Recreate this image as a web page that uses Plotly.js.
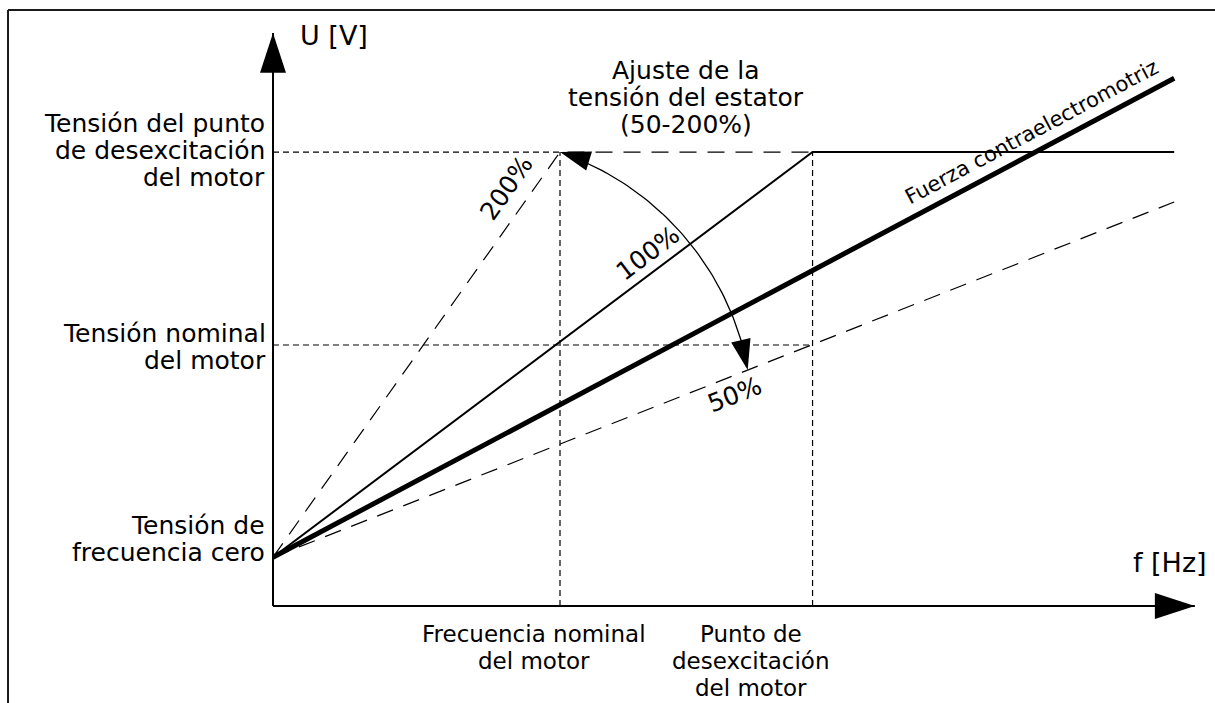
<!DOCTYPE html>
<html>
<head>
<meta charset="utf-8">
<script src="https://cdn.plot.ly/plotly-3.0.1.min.js"></script>
<style>
  body { margin: 0; background: #fff; }
  #chart { width: 1215px; height: 703px; }
</style>
</head>
<body>
<div id="chart"></div>
<script>
// values (f in Hz, U in V)
const fNominal = 50;
const fFieldWeak = 94;
const fEnd = 157;
const fAxisEnd = 160.6;

const uZero = 43;
const uNominal = 230;
const uFieldWeak = 400;
const uAxisEnd = 505;

// U/f curves
const f100 = [0, fFieldWeak, fEnd];
const u100 = [uZero, uFieldWeak, uFieldWeak];
const f200 = [0, fNominal, fFieldWeak];
const u200 = [uZero, uFieldWeak, uFieldWeak];
const f50 = [0, fFieldWeak, fEnd];
const u50 = [uZero, uNominal, 356];
const fEmf = [0, fEnd];
const uEmf = [uZero, 465];

// tips of the adjustment arc arrows
const arcTipF = [fNominal, 82.7];
const arcTipU = [uFieldWeak, 208];

// text
const labelFieldWeakU = ['Tensión del punto', 'de desexcitación', 'del motor'];
const labelNominalU = ['Tensión nominal', 'del motor'];
const labelZeroU = ['Tensión de', 'frecuencia cero'];
const labelAdjust = ['Ajuste de la', 'tensión del estator', '(50-200%)'];
const labelNominalF = ['Frecuencia nominal', 'del motor'];
const labelFieldWeakF = ['Punto de', 'desexcitación', 'del motor'];
const axisTitleU = 'U [V]';
const axisTitleF = 'f [Hz]';
const pctLabels = ['200%', '100%', '50%'];
const emfLabel = 'Fuerza contraelectromotriz';

const font = 'DejaVu Sans, Verdana, sans-serif';
const black = '#000000';

// arc of the stator voltage adjustment (drawn decoration)
const arcF = [], arcU = [];
for (let a = 66; a >= 16; a -= 1) {
    const r = a * Math.PI / 180;
    arcF.push(33.97 + 49.65 * Math.cos(r));
    arcU.push(162.1 + 251.1 * Math.sin(r));
}

// dotted guide lines
const guideF = [0, fNominal, null, 0, fFieldWeak, null, fNominal, fNominal, null, fFieldWeak, fFieldWeak];
const guideU = [uFieldWeak, uFieldWeak, null, uNominal, uNominal, null, 0, uFieldWeak, null, 0, uFieldWeak];

const traces = [
    { x: guideF, y: guideU, mode: 'lines', line: { color: black, width: 1.2, dash: '6px,4px' } },
    { x: f200, y: u200, mode: 'lines', line: { color: black, width: 1.2, dash: '17px,11px' } },
    { x: f50, y: u50, mode: 'lines', line: { color: black, width: 1.2, dash: '17px,11px' } },
    { x: f100, y: u100, mode: 'lines', line: { color: black, width: 2 } },
    { x: fEmf, y: uEmf, mode: 'lines', line: { color: black, width: 5 } },
    { x: [0, 0], y: [0, uAxisEnd], mode: 'lines', line: { color: black, width: 2 } },
    { x: [0, fAxisEnd], y: [0, 0], mode: 'lines', line: { color: black, width: 2 } },
    { x: [0, fAxisEnd], y: [uAxisEnd, 0], mode: 'markers',
      marker: { symbol: 'arrow', size: 42, angle: [0, 90], color: black, line: { width: 0 } } },
    { x: arcF, y: arcU, mode: 'lines', line: { color: black, width: 1.3 } },
    { x: arcTipF, y: arcTipU, mode: 'markers',
      marker: { symbol: 'arrow', size: 32, angle: [-73, 167], color: black, line: { width: 0 } } }
];

// one annotation per text line so the line spacing follows the picture
function stack(lines, x, y, xanchor, xshift, yshift, size) {
    return lines.map((t, i) => ({
        x: x, y: y, text: t, showarrow: false,
        xanchor: xanchor, yanchor: 'middle',
        xshift: xshift, yshift: yshift - i * 27,
        font: { family: font, size: size || 23, color: black }
    }));
}

function rotated(text, x, y, angle, size) {
    return {
        x: x, y: y, text: text, showarrow: false, textangle: angle,
        xanchor: 'center', yanchor: 'middle',
        font: { family: font, size: size, color: black }
    };
}

const annotations = [].concat(
    stack(labelFieldWeakU, 0, uFieldWeak, 'right', -6, 29, 25),
    stack(labelNominalU, 0, uNominal, 'right', -5, 11, 25),
    stack(labelZeroU, 0, uZero, 'right', -6, 32, 25),
    stack(labelAdjust, (fNominal + fFieldWeak) / 2, uFieldWeak, 'center', 0, 82, 25),
    stack(labelNominalF, fNominal, 0, 'center', -26, -28, 23),
    stack(labelFieldWeakF, fFieldWeak, 0, 'center', -62, -28, 23),
    stack([axisTitleU], 0, uAxisEnd, 'left', 25, -3, 27),
    stack([axisTitleF], fAxisEnd, 0, 'left', -64, 44, 27),
    [
        rotated(pctLabels[0], 40.6, 368, -55, 25),
        rotated(pctLabels[1], 65.2, 311, -37, 25),
        rotated(pctLabels[2], 80.5, 186, -21.5, 25),
        rotated(emfLabel, 132.2, 417.7, -28, 21)
    ]
);

const hidden = { showgrid: false, zeroline: false, showline: false, showticklabels: false, ticks: '', fixedrange: true };

const layout = {
    width: 1215,
    height: 703,
    margin: { l: 0, r: 0, t: 0, b: 0 },
    showlegend: false,
    hovermode: false,
    paper_bgcolor: '#ffffff',
    plot_bgcolor: '#ffffff',
    xaxis: Object.assign({ range: [-47.56, 164.11] }, hidden),
    yaxis: Object.assign({ range: [-85.48, 534.0] }, hidden),
    annotations: annotations,
    shapes: [
        // frame of the figure (top and left edges)
        { type: 'line', xref: 'paper', yref: 'paper', x0: 0.0066, x1: 1, y0: 0.9858, y1: 0.9858, line: { color: '#1a1a1a', width: 2 } },
        { type: 'line', xref: 'paper', yref: 'paper', x0: 0.0066, x1: 0.0066, y0: 0, y1: 0.9858, line: { color: '#1a1a1a', width: 2 } }
    ]
};

Plotly.newPlot('chart', traces, layout, { displayModeBar: false, staticPlot: true });
</script>
</body>
</html>
